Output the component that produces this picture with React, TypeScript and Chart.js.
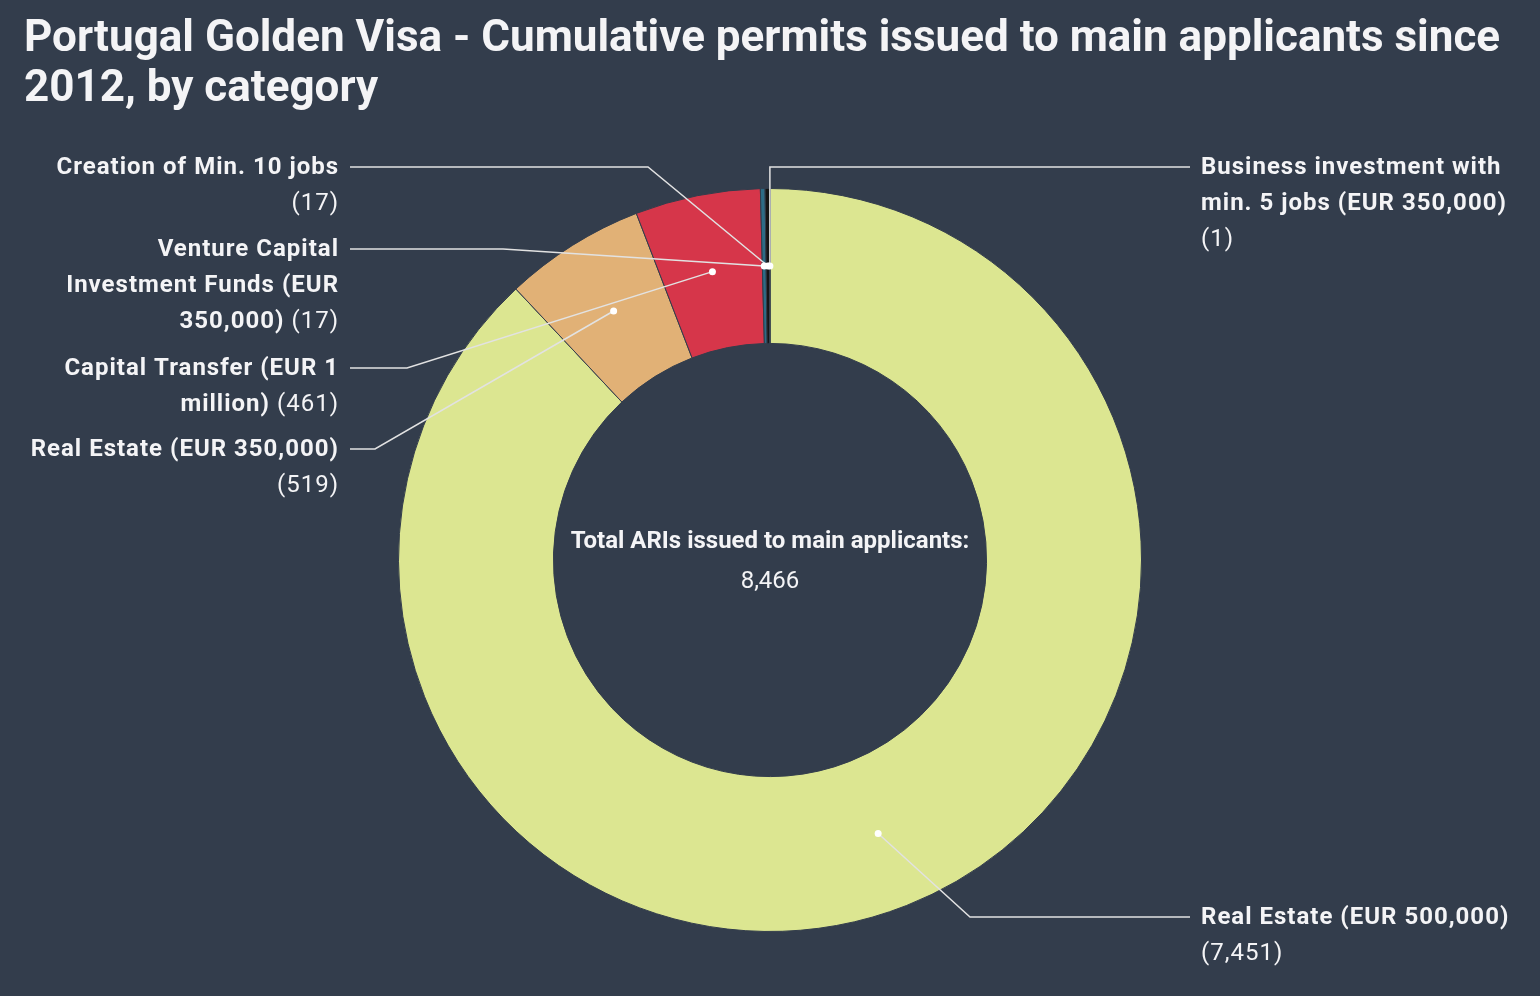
import React, { useEffect, useRef } from "react";
import { Chart, registerables } from "chart.js";
Chart.register(...registerables);

const categories = [
  "Real Estate (EUR 500,000)",
  "Real Estate (EUR 350,000)",
  "Capital Transfer (EUR 1 million)",
  "Venture Capital Investment Funds (EUR 350,000)",
  "Creation of Min. 10 jobs",
  "Business investment with min. 5 jobs (EUR 350,000)",
];
const permits = [7451, 519, 461, 17, 17, 1];
const colors = ["#dce691", "#e1b176", "#d6364a", "#2d6c86", "#151515", "#c9c9c9"];
const labelLines = [
  ["Real Estate (EUR 500,000)", "{v}"],
  ["Real Estate (EUR 350,000)", "{v}"],
  ["Capital Transfer (EUR 1", "million) {v}"],
  ["Venture Capital", "Investment Funds (EUR", "350,000) {v}"],
  ["Creation of Min. 10 jobs", "{v}"],
  ["Business investment with", "min. 5 jobs (EUR 350,000)", "{v}"],
];
const titleLines = [
  "Portugal Golden Visa - Cumulative permits issued to main applicants since",
  "2012, by category",
];
const centerTitle = "Total ARIs issued to main applicants:";

const BG = "#333d4c";
const TEXT = "#f4f4f6";
const LINE = "#e2e2e2";

const labelLayout = [
  { side: "right", x: 1201, y: 917, elbowX: 970 },
  { side: "left", x: 338, y: 449, elbowX: 375 },
  { side: "left", x: 338, y: 368, elbowX: 407 },
  { side: "left", x: 338, y: 249, elbowX: 503 },
  { side: "left", x: 338, y: 167, elbowX: 648 },
  { side: "right", x: 1201, y: 167, elbowX: -1 },
];

const fmt = (n: number) => n.toLocaleString("en-US");

const overlayPlugin = {
  id: "overlay",
  beforeDraw(chart: any) {
    const ctx = chart.ctx;
    ctx.save();
    ctx.fillStyle = BG;
    ctx.fillRect(0, 0, chart.width, chart.height);
    ctx.restore();
  },
  afterDraw(chart: any) {
    const ctx: CanvasRenderingContext2D = chart.ctx;
    const meta = chart.getDatasetMeta(0);
    ctx.save();
    // title
    ctx.fillStyle = TEXT;
    ctx.font = "bold 44px Roboto";
    ctx.textAlign = "left";
    ctx.textBaseline = "alphabetic";
    titleLines.forEach((t, i) => ctx.fillText(t, 24, 51 + i * 50));

    // center text
    const arc0 = meta.data[0];
    const cx = arc0.x, cy = arc0.y;
    ctx.textAlign = "center";
    ctx.textBaseline = "middle";
    ctx.font = "bold 24px Roboto";
    ctx.fillText(centerTitle, cx, cy - 18);
    ctx.font = "24px Roboto";
    const total = permits.reduce((a, b) => a + b, 0);
    ctx.fillText(fmt(total), cx, cy + 22);

    // leader lines and dots
    const dots: { x: number; y: number }[] = [];
    meta.data.forEach((arc: any, i: number) => {
      const mid = (arc.startAngle + arc.endAngle) / 2;
      const r = (arc.innerRadius + arc.outerRadius) / 2;
      const dx = arc.x + Math.cos(mid) * r;
      const dy = arc.y + Math.sin(mid) * r;
      dots.push({ x: dx, y: dy });
      const L = labelLayout[i];
      const startX = L.side === "left" ? L.x + 12 : L.x - 11;
      const ex = L.elbowX < 0 ? dx : L.elbowX;
      ctx.strokeStyle = LINE;
      ctx.lineWidth = 1.5;
      ctx.beginPath();
      ctx.moveTo(startX, L.y);
      ctx.lineTo(ex, L.y);
      ctx.lineTo(dx, dy);
      ctx.stroke();
    });
    dots.forEach((d) => {
      ctx.fillStyle = "#ffffff";
      ctx.beginPath();
      ctx.arc(d.x, d.y, 3.5, 0, Math.PI * 2);
      ctx.fill();
    });

    // labels
    const boldFont = "bold 24px Roboto";
    const regFont = "24px Roboto";
    (ctx as any).letterSpacing = "1px";
    ctx.textBaseline = "middle";
    ctx.textAlign = "left";
    ctx.fillStyle = TEXT;
    labelLines.forEach((lines, i) => {
      const L = labelLayout[i];
      lines.forEach((line, j) => {
        const parts = line.split("{v}");
        const segs: { t: string; f: string }[] = [];
        if (parts[0]) segs.push({ t: parts[0], f: boldFont });
        if (parts.length > 1) segs.push({ t: "(" + fmt(permits[i]) + ")", f: regFont });
        let w = 0;
        segs.forEach((s) => {
          ctx.font = s.f;
          w += ctx.measureText(s.t).width;
        });
        w -= 1;
        let x = L.side === "left" ? L.x - w : L.x;
        const y = L.y + 1 + j * 36;
        segs.forEach((s) => {
          ctx.font = s.f;
          ctx.fillText(s.t, x, y);
          x += ctx.measureText(s.t).width;
        });
      });
    });
    ctx.restore();
  },
};

export default function App() {
  const ref = useRef<HTMLCanvasElement>(null);
  useEffect(() => {
    document.body.style.margin = "0";
    document.body.style.background = BG;
    const chart = new Chart(ref.current!, {
      type: "doughnut",
      data: {
        labels: categories,
        datasets: [
          {
            data: permits,
            backgroundColor: colors,
            borderColor: BG,
            borderWidth: 1,
          },
        ],
      },
      options: {
        responsive: false,
        animation: false,
        cutout: "58.3%",
        layout: { padding: { top: 188, bottom: 64, left: 398, right: 398 } },
        plugins: {
          legend: { display: false },
          title: { display: false },
          tooltip: { enabled: false },
        },
      },
      plugins: [overlayPlugin],
    });
    return () => chart.destroy();
  }, []);
  return (
    <div style={{ width: 1540, height: 996, background: BG }}>
      <canvas ref={ref} width={1540} height={996} />
    </div>
  );
}
